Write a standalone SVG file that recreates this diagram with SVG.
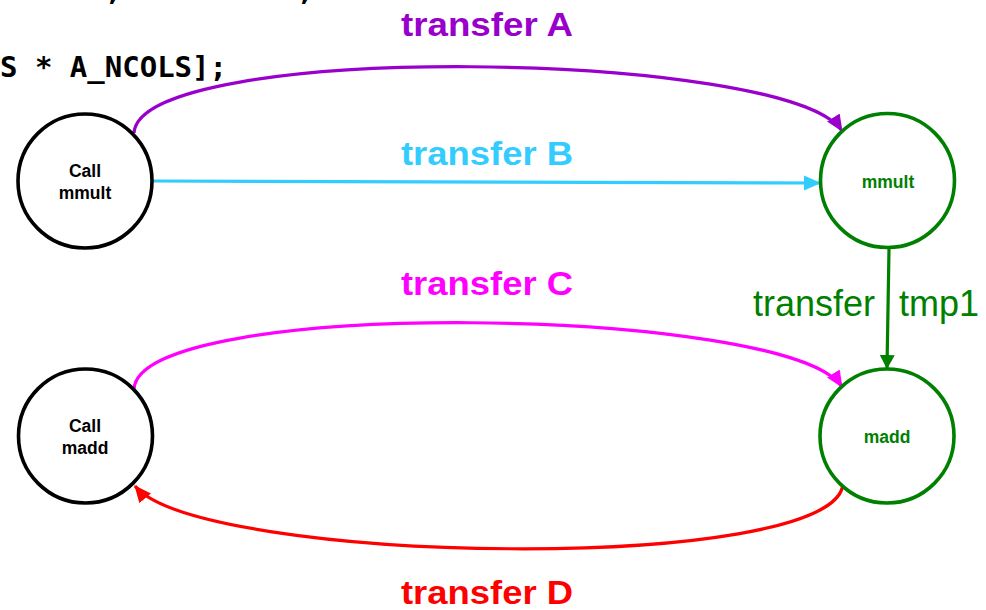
<svg xmlns="http://www.w3.org/2000/svg" width="986" height="610" viewBox="0 0 986 610">
<style>
.node{fill:#fff;stroke-width:3.6}
.blk{stroke:#000}
.grn{stroke:#008000}
.nt{font-family:"Liberation Sans",Arial,sans-serif;font-weight:bold;font-size:17.5px;text-anchor:middle}
.lbl{font-family:"Liberation Sans",Arial,sans-serif;font-weight:bold;font-size:33px;text-anchor:middle}
.code{font-family:"DejaVu Sans Mono",monospace;font-weight:bold;font-size:29px;fill:#000}
.c{fill:none;stroke-width:3.2}
</style>
<defs>
<marker id="mA" markerUnits="userSpaceOnUse" markerWidth="20" markerHeight="16" refX="16" refY="7.5" orient="auto"><path d="M0,0 L17,7.5 L0,15 z" fill="#9900CC"/></marker>
<marker id="mB" markerUnits="userSpaceOnUse" markerWidth="20" markerHeight="16" refX="16" refY="7.5" orient="auto"><path d="M0,0 L17,7.5 L0,15 z" fill="#33CCFF"/></marker>
<marker id="mC" markerUnits="userSpaceOnUse" markerWidth="20" markerHeight="16" refX="16" refY="7.5" orient="auto"><path d="M0,0 L17,7.5 L0,15 z" fill="#FF00FF"/></marker>
<marker id="mD" markerUnits="userSpaceOnUse" markerWidth="20" markerHeight="16" refX="16" refY="7.5" orient="auto"><path d="M0,0 L17,7.5 L0,15 z" fill="#FF0000"/></marker>
<marker id="mG" markerUnits="userSpaceOnUse" markerWidth="18" markerHeight="16" refX="13" refY="7.5" orient="auto"><path d="M0,0 L14,7.5 L0,15 z" fill="#008000"/></marker>
</defs>
<rect width="986" height="610" fill="#fff"/>
<text class="code" x="0" y="0" xml:space="preserve">      ,          ,</text>
<text class="code" x="0" y="77" xml:space="preserve">S * A_NCOLS];</text>
<g id="connectors">
<path class="c" stroke="#9900CC" d="M134,133 C140,40 790,50 842,131" marker-end="url(#mA)"/>
<path class="c" stroke="#33CCFF" d="M153,181 L820,183" marker-end="url(#mB)"/>
<path class="c" stroke="#FF00FF" d="M134,389 C140,296 790,306 842,387" marker-end="url(#mC)"/>
<path class="c" stroke="#FF0000" d="M843,484 C835,575 200,565 135,486" marker-end="url(#mD)"/>
<path class="c" stroke="#008000" d="M889,249 L887,368" marker-end="url(#mG)"/>
<text class="lbl" x="487" y="36" fill="#9900CC" textLength="172" lengthAdjust="spacingAndGlyphs">transfer A</text>
<text class="lbl" x="487" y="165" fill="#33CCFF" textLength="172" lengthAdjust="spacingAndGlyphs">transfer B</text>
<text class="lbl" x="487" y="295" fill="#FF00FF" textLength="172" lengthAdjust="spacingAndGlyphs">transfer C</text>
<text class="lbl" x="487" y="604" fill="#FF0000" textLength="172" lengthAdjust="spacingAndGlyphs">transfer D</text>
<text font-family="Liberation Sans,Arial,sans-serif" font-size="36" fill="#008000" y="316"><tspan x="753">transfer</tspan><tspan x="899">tmp1</tspan></text>
</g>
<g id="call-mmult">
<circle class="node blk" cx="85" cy="181" r="67"/>
<text class="nt" x="85" y="177" fill="#000">Call</text>
<text class="nt" x="85" y="199" fill="#000">mmult</text>
</g>
<g id="mmult">
<circle class="node grn" cx="887.5" cy="180.5" r="67"/>
<text class="nt" x="888" y="188" fill="#008000">mmult</text>
</g>
<g id="call-madd">
<circle class="node blk" cx="85.5" cy="436" r="67"/>
<text class="nt" x="85" y="432" fill="#000">Call</text>
<text class="nt" x="85" y="454" fill="#000">madd</text>
</g>
<g id="madd">
<circle class="node grn" cx="887" cy="436" r="67"/>
<text class="nt" x="887" y="443" fill="#008000">madd</text>
</g>
</svg>
